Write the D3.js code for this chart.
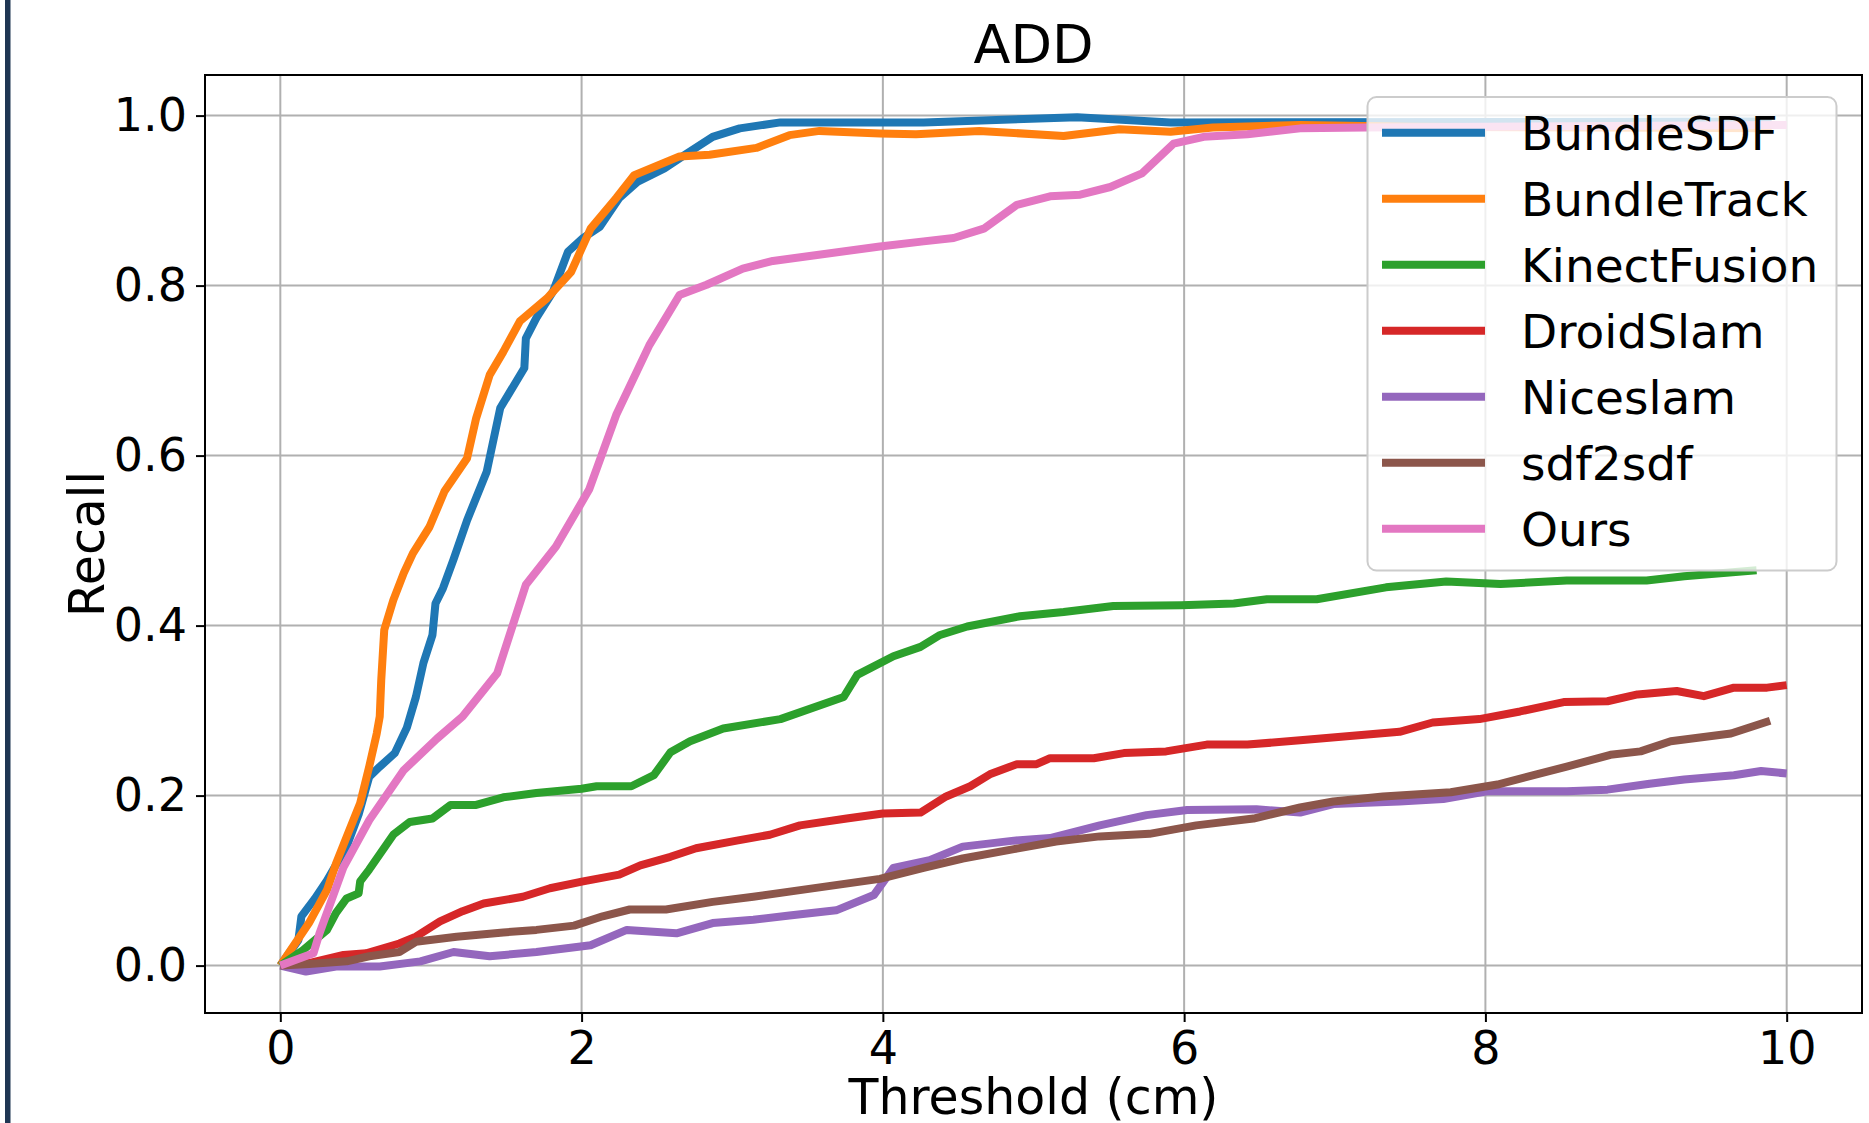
<!DOCTYPE html>
<html>
<head>
<meta charset="utf-8">
<script src="https://cdn.jsdelivr.net/npm/d3@7"></script>
<style>
  body { margin: 0; background: #fff; }
  svg { display: block; font-family: "DejaVu Sans", sans-serif; }
</style>
</head>
<body>
<svg id="chart" width="1869" height="1123"></svg>
<script>
// series names in legend order
var names = ["BundleSDF", "BundleTrack", "KinectFusion", "DroidSlam", "Niceslam", "sdf2sdf", "Ours"]
var colors = ["#1f77b4", "#ff7f0e", "#2ca02c", "#d62728", "#9467bd", "#8c564b", "#e377c2"]

var xTicks = [0, 2, 4, 6, 8, 10]
var yTicks = [0, 0.2, 0.4, 0.6, 0.8, 1.0]

// values: threshold (cm) and recall
var bundleSdfX = [0, 0.12, 0.14, 0.23, 0.31, 0.44, 0.52, 0.59, 0.66, 0.76, 0.84, 0.90, 0.95, 1.01, 1.03, 1.08, 1.15, 1.24, 1.37, 1.46, 1.62, 1.63, 1.70, 1.81, 1.91, 2.01, 2.12, 2.25, 2.37, 2.55, 2.67, 2.87, 3.05, 3.32, 4.27, 5.29, 5.91, 9.9]
var bundleSdfY = [0, 0.03, 0.058, 0.079, 0.10, 0.14, 0.178, 0.222, 0.234, 0.25, 0.28, 0.316, 0.356, 0.389, 0.426, 0.444, 0.478, 0.524, 0.581, 0.656, 0.703, 0.738, 0.762, 0.793, 0.84, 0.856, 0.869, 0.903, 0.922, 0.938, 0.952, 0.975, 0.985, 0.992, 0.992, 0.998, 0.992, 0.993]

var bundleTrackX = [0, 0.19, 0.31, 0.37, 0.46, 0.53, 0.59, 0.64, 0.66, 0.67, 0.69, 0.75, 0.82, 0.88, 0.99, 1.09, 1.24, 1.30, 1.39, 1.48, 1.59, 1.77, 1.93, 2.06, 2.23, 2.35, 2.65, 2.85, 3.16, 3.38, 3.58, 3.98, 4.22, 4.64, 5.20, 5.57, 5.91, 6.19, 6.77, 7.5, 9.9]
var bundleTrackY = [0, 0.05, 0.089, 0.12, 0.16, 0.191, 0.234, 0.273, 0.293, 0.336, 0.395, 0.43, 0.462, 0.485, 0.516, 0.558, 0.597, 0.644, 0.695, 0.722, 0.758, 0.785, 0.816, 0.867, 0.903, 0.93, 0.952, 0.954, 0.962, 0.977, 0.982, 0.979, 0.978, 0.982, 0.976, 0.984, 0.981, 0.986, 0.989, 0.987, 0.985]

var kinectX = [0, 0.15, 0.31, 0.37, 0.44, 0.52, 0.53, 0.59, 0.75, 0.86, 1.01, 1.13, 1.30, 1.48, 1.70, 2.00, 2.10, 2.33, 2.48, 2.59, 2.72, 2.94, 3.32, 3.74, 3.83, 4.07, 4.25, 4.38, 4.56, 4.91, 5.20, 5.53, 5.98, 6.33, 6.55, 6.88, 7.34, 7.74, 8.10, 8.54, 9.07, 9.32, 9.80]
var kinectY = [0, 0.018, 0.042, 0.062, 0.079, 0.085, 0.099, 0.113, 0.154, 0.169, 0.173, 0.189, 0.189, 0.198, 0.203, 0.208, 0.211, 0.211, 0.224, 0.251, 0.264, 0.279, 0.29, 0.316, 0.342, 0.364, 0.375, 0.389, 0.399, 0.411, 0.416, 0.423, 0.424, 0.426, 0.431, 0.431, 0.445, 0.452, 0.449, 0.453, 0.453, 0.458, 0.465]

var droidX = [0, 0.19, 0.42, 0.57, 0.79, 0.90, 1.06, 1.21, 1.35, 1.61, 1.79, 2.01, 2.25, 2.39, 2.59, 2.76, 3.03, 3.25, 3.45, 3.76, 4.00, 4.25, 4.42, 4.58, 4.71, 4.89, 5.02, 5.11, 5.40, 5.60, 5.88, 6.15, 6.42, 6.77, 7.43, 7.65, 7.96, 8.23, 8.52, 8.81, 9.01, 9.27, 9.45, 9.65, 9.87, 10.0]
var droidY = [0, 0.003, 0.0125, 0.0145, 0.026, 0.034, 0.052, 0.064, 0.073, 0.081, 0.091, 0.099, 0.107, 0.118, 0.128, 0.138, 0.147, 0.154, 0.165, 0.173, 0.179, 0.18, 0.199, 0.211, 0.225, 0.237, 0.237, 0.244, 0.244, 0.25, 0.252, 0.26, 0.26, 0.265, 0.275, 0.286, 0.29, 0.299, 0.31, 0.311, 0.319, 0.323, 0.317, 0.327, 0.327, 0.33]

var niceX = [0, 0.17, 0.37, 0.66, 0.93, 1.15, 1.39, 1.70, 2.06, 2.30, 2.63, 2.87, 3.14, 3.38, 3.69, 3.94, 4.07, 4.31, 4.53, 4.87, 5.11, 5.44, 5.75, 6.02, 6.48, 6.77, 6.99, 7.43, 7.72, 8.01, 8.54, 8.81, 9.09, 9.32, 9.65, 9.83, 10.0]
var niceY = [0, -0.007, -0.001, -0.001, 0.005, 0.016, 0.011, 0.016, 0.024, 0.042, 0.038, 0.05, 0.054, 0.059, 0.065, 0.083, 0.115, 0.124, 0.14, 0.147, 0.15, 0.165, 0.177, 0.183, 0.184, 0.18, 0.19, 0.193, 0.196, 0.205, 0.205, 0.207, 0.214, 0.219, 0.224, 0.229, 0.226]

var sdfX = [0, 0.19, 0.44, 0.59, 0.79, 0.90, 1.17, 1.48, 1.70, 1.95, 2.14, 2.32, 2.56, 2.87, 3.14, 3.38, 3.98, 4.27, 4.53, 4.87, 5.15, 5.44, 5.77, 6.08, 6.46, 6.77, 6.99, 7.32, 7.77, 8.08, 8.32, 8.54, 8.83, 9.03, 9.23, 9.63, 9.89]
var sdfY = [0, 0.002, 0.005, 0.011, 0.016, 0.028, 0.034, 0.039, 0.042, 0.047, 0.058, 0.066, 0.066, 0.075, 0.081, 0.087, 0.102, 0.115, 0.126, 0.137, 0.146, 0.152, 0.155, 0.165, 0.173, 0.186, 0.193, 0.199, 0.204, 0.213, 0.224, 0.234, 0.248, 0.252, 0.264, 0.273, 0.288]

var oursX = [0, 0.22, 0.26, 0.42, 0.59, 0.82, 1.04, 1.21, 1.44, 1.63, 1.83, 2.05, 2.23, 2.45, 2.65, 2.83, 3.07, 3.27, 3.98, 4.27, 4.47, 4.67, 4.89, 5.11, 5.31, 5.51, 5.72, 5.93, 6.13, 6.42, 6.77, 7.2, 10.0]
var oursY = [0, 0.0145, 0.038, 0.116, 0.171, 0.23, 0.267, 0.293, 0.344, 0.448, 0.493, 0.56, 0.648, 0.73, 0.789, 0.801, 0.82, 0.829, 0.846, 0.852, 0.856, 0.867, 0.895, 0.905, 0.907, 0.916, 0.932, 0.967, 0.975, 0.978, 0.985, 0.986, 0.989]

var seriesX = [bundleSdfX, bundleTrackX, kinectX, droidX, niceX, sdfX, oursX]
var seriesY = [bundleSdfY, bundleTrackY, kinectY, droidY, niceY, sdfY, oursY]

var series = names.map(function(n, i) {
    return {
        name: n,
        color: colors[i],
        points: seriesX[i].map(function(x, j) { return [x, seriesY[i][j]] })
    }
})

// plot box (window.top is reserved, so prefixed names)
var plotLeft = 205, plotRight = 1862, plotTop = 75, plotBottom = 1013
var midX = (plotLeft + plotRight) / 2, midY = (plotTop + plotBottom) / 2

var x = d3.scaleLinear().domain([-0.5, 10.5]).range([plotLeft, plotRight])
var y = d3.scaleLinear().domain([0, 1]).range([965.6, 115.6])

var svg = d3.select('#chart')

svg.append('rect')
    .attr('x', 0).attr('y', 0)
    .attr('width', 1869).attr('height', 1123)
    .attr('fill', '#fff')

// dark border on the left side of the slide
svg.append('rect')
    .attr('x', 5).attr('y', 0)
    .attr('width', 5.5).attr('height', 1123)
    .attr('fill', '#1f3653')

// grid
svg.append('g').selectAll('line')
    .data(xTicks)
    .join('line')
    .attr('x1', function(d) { return x(d) })
    .attr('x2', function(d) { return x(d) })
    .attr('y1', plotTop).attr('y2', plotBottom)
    .attr('stroke', '#b0b0b0')
    .attr('stroke-width', 2)

svg.append('g').selectAll('line')
    .data(yTicks)
    .join('line')
    .attr('x1', plotLeft).attr('x2', plotRight)
    .attr('y1', function(d) { return y(d) })
    .attr('y2', function(d) { return y(d) })
    .attr('stroke', '#b0b0b0')
    .attr('stroke-width', 2)

// lines
var line = d3.line()
    .x(function(d) { return x(d[0]) })
    .y(function(d) { return y(d[1]) })

svg.append('g').selectAll('path')
    .data(series)
    .join('path')
    .attr('d', function(d) { return line(d.points) })
    .attr('fill', 'none')
    .attr('stroke', function(d) { return d.color })
    .attr('stroke-width', 8)
    .attr('stroke-linejoin', 'round')
    .attr('stroke-linecap', 'butt')

// axes
var xAxis = d3.axisBottom(x).tickValues(xTicks).tickSize(9).tickPadding(9).tickFormat(d3.format('d'))
var yAxis = d3.axisLeft(y).tickValues(yTicks).tickSize(9).tickPadding(9).tickFormat(d3.format('.1f'))

var gx = svg.append('g').attr('transform', 'translate(0,' + plotBottom + ')').call(xAxis)
var gy = svg.append('g').attr('transform', 'translate(' + plotLeft + ',0)').call(yAxis)

;[gx, gy].forEach(function(g) {
    g.select('.domain').remove()
    g.selectAll('line').attr('stroke', '#000').attr('stroke-width', 2)
    g.selectAll('text')
        .attr('fill', '#000')
        .style('font-size', '46px')
        .style('font-family', '"DejaVu Sans", sans-serif')
})

svg.append('rect')
    .attr('x', plotLeft).attr('y', plotTop)
    .attr('width', plotRight - plotLeft).attr('height', plotBottom - plotTop)
    .attr('fill', 'none')
    .attr('stroke', '#000')
    .attr('stroke-width', 2)

// legend
var lg = svg.append('g')

lg.append('rect')
    .attr('x', 1367.5).attr('y', 97)
    .attr('width', 469).attr('height', 473.5)
    .attr('rx', 9).attr('ry', 9)
    .attr('fill', '#fff')
    .attr('fill-opacity', 0.8)
    .attr('stroke', '#cccccc')
    .attr('stroke-width', 2)

var items = lg.selectAll('g.item')
    .data(series)
    .join('g')
    .attr('class', 'item')
    .attr('transform', function(d, i) { return 'translate(0,' + (132.7 + i * 66) + ')' })

items.append('line')
    .attr('x1', 1382).attr('x2', 1485)
    .attr('stroke', function(d) { return d.color })
    .attr('stroke-width', 8)

items.append('text')
    .attr('x', 1521)
    .attr('y', 17)
    .style('font-size', '47px')
    .text(function(d) { return d.name })

// titles
svg.append('text')
    .attr('x', midX)
    .attr('y', 63)
    .attr('text-anchor', 'middle')
    .style('font-size', '54px')
    .text('ADD')

svg.append('text')
    .attr('x', midX)
    .attr('y', 1114)
    .attr('text-anchor', 'middle')
    .style('font-size', '49px')
    .text('Threshold (cm)')

svg.append('text')
    .attr('transform', 'translate(104,' + midY + ') rotate(-90)')
    .attr('text-anchor', 'middle')
    .style('font-size', '49px')
    .text('Recall')
</script>
</body>
</html>
